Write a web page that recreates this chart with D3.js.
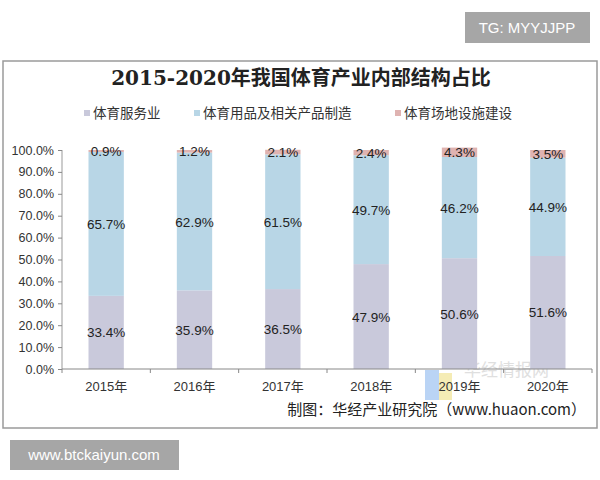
<!DOCTYPE html>
<html><head><meta charset="utf-8">
<script src="https://cdn.jsdelivr.net/npm/d3@7"></script>
<style>body{margin:0;background:#fff;} svg{display:block;}</style>
</head><body><svg id="c" width="600" height="480"></svg>
<script>
const years = ["2015年","2016年","2017年","2018年","2019年","2020年"];
const seriesNames = ["体育服务业","体育用品及相关产品制造","体育场地设施建设"];
const service = [33.4,35.9,36.5,47.9,50.6,51.6];
const products = [65.7,62.9,61.5,49.7,46.2,44.9];
const construction = [0.9,1.2,2.1,2.4,4.3,3.5];
const yTicks = [0,10,20,30,40,50,60,70,80,90,100];
const colors = ["#c9c9db","#b8d6e6","#dfb3b1"];

const svg = d3.select("#c");
const FONT = "Arial, 'Liberation Sans', 'Noto Sans CJK SC', sans-serif";

// frame
svg.append("rect").attr("x",3).attr("y",61).attr("width",594).attr("height",367)
  .attr("fill","#fff").attr("stroke","#9a9a9a").attr("stroke-width",1.5);

// watermark boxes
svg.append("rect").attr("x",465).attr("y",12).attr("width",125).attr("height",31).attr("fill","#a6a6a6");
svg.append("text").attr("x",527).attr("y",33).attr("text-anchor","middle").attr("fill","#fff")
  .attr("font-family",FONT).attr("font-size",15).text("TG: MYYJJPP");
svg.append("rect").attr("x",10).attr("y",440).attr("width",169).attr("height",30).attr("fill","#a6a6a6");
svg.append("text").attr("x",94).attr("y",460).attr("text-anchor","middle").attr("fill","#fff")
  .attr("font-family",FONT).attr("font-size",15).text("www.btckaiyun.com");

// title
svg.append("text").attr("x",301).attr("y",85).attr("text-anchor","middle")
  .attr("font-family","'DejaVu Serif','Noto Sans CJK SC',serif").attr("font-weight","bold")
  .attr("font-size",20).attr("fill","#222").text("2015-2020年我国体育产业内部结构占比");

// legend
const legX = [87,197,398];
seriesNames.forEach((n,i)=>{
  svg.append("rect").attr("x",legX[i]-3).attr("y",110).attr("width",6).attr("height",6).attr("fill",colors[i]);
  svg.append("text").attr("x",legX[i]+6).attr("y",118).attr("font-family","'Noto Sans CJK SC',sans-serif")
    .attr("font-size",13.5).attr("fill","#333").text(n);
});

const x = d3.scaleBand().domain(years).range([62,592]).paddingInner(0.6).paddingOuter(0.3);
const y = d3.scaleLinear().domain([0,100]).range([369,150]);

const data = years.map((yr,i)=>({year:yr, service:service[i], products:products[i], construction:construction[i]}));
const keys = ["service","products","construction"];
const stack = d3.stack().keys(keys)(data);

// huaon watermark (behind)
svg.append("rect").attr("x",425).attr("y",370).attr("width",14).attr("height",30).attr("fill","#a9c9f2").attr("opacity",0.8);
svg.append("rect").attr("x",439).attr("y",373).attr("width",13).attr("height",27).attr("fill","#f3e7a3").attr("opacity",0.8);
svg.append("text").attr("x",464).attr("y",376).attr("font-family","'Noto Sans CJK SC',sans-serif")
  .attr("font-size",17).attr("fill","#d8d8d8").attr("opacity",0.8).text("华经情报网");

const g = svg.append("g");
stack.forEach((layer,li)=>{
  g.selectAll(null).data(layer).enter().append("rect")
    .attr("x",d=>x(d.data.year)).attr("width",x.bandwidth())
    .attr("y",d=>y(d[1])).attr("height",d=>y(d[0])-y(d[1]))
    .attr("fill",colors[li]);
});
stack.forEach((layer,li)=>{
  g.selectAll(null).data(layer).enter().append("text")
    .attr("x",d=>x(d.data.year)+x.bandwidth()/2)
    .attr("y",d=>(y(d[0])+y(d[1]))/2 + 5)
    .attr("text-anchor","middle").attr("font-family",FONT).attr("font-size",13.5).attr("fill","#222")
    .text(d=>d.data[keys[li]].toFixed(1)+"%");
});

// axes
const yAxis = d3.axisLeft(y).tickValues(yTicks).tickFormat(d=>d.toFixed(1)+"%").tickSize(4).tickPadding(4);
const ya = svg.append("g").attr("transform","translate(62,0)").call(yAxis);
ya.selectAll("text").attr("font-family",FONT).attr("font-size",12.5).attr("fill","#333");
ya.selectAll("line").attr("stroke","#888");
ya.select(".domain").attr("stroke","#999").attr("d","M0,150V369");

const xa = svg.append("g").attr("transform","translate(0,369)")
  .call(d3.axisBottom(x).tickSize(0).tickPadding(13));
xa.select(".domain").attr("stroke","#888").attr("d","M62,0H592");
xa.selectAll("text").attr("font-family",FONT).attr("font-size",13).attr("fill","#333");
const bounds = d3.range(0, years.length+1).map(i=>62+i*(530/years.length));
xa.selectAll(null).data(bounds).enter().append("line")
  .attr("x1",d=>d).attr("x2",d=>d).attr("y1",0).attr("y2",4).attr("stroke","#888");

// source
svg.append("text").attr("x",586).attr("y",415).attr("text-anchor","end")
  .attr("font-family","'Noto Sans CJK SC',sans-serif").attr("font-size",15).attr("fill","#222")
  .text("制图：华经产业研究院（www.huaon.com）");
</script></body></html>
